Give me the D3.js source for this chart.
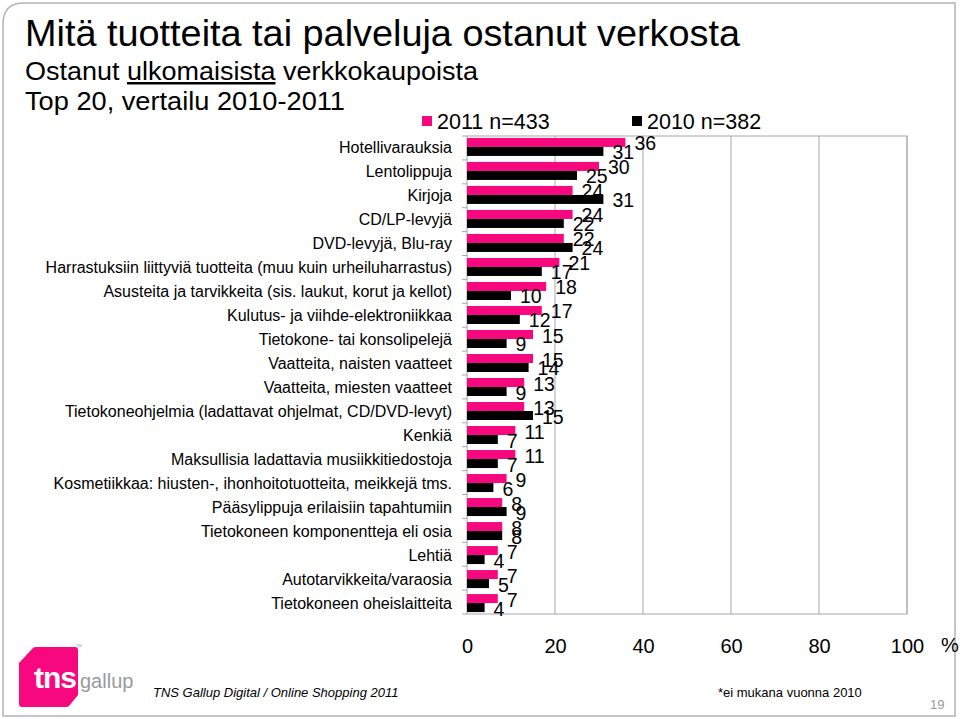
<!DOCTYPE html>
<html>
<head>
<meta charset="utf-8">
<script src="https://cdn.jsdelivr.net/npm/d3@7"></script>
<style>
  body { margin: 0; background: #fff; }
  svg { display: block; font-family: Arial, "Liberation Sans", sans-serif; }
</style>
</head>
<body>
<script>
// categories, top to bottom
const categories = [
  "Hotellivarauksia",
  "Lentolippuja",
  "Kirjoja",
  "CD/LP-levyjä",
  "DVD-levyjä, Blu-ray",
  "Harrastuksiin liittyviä tuotteita (muu kuin urheiluharrastus)",
  "Asusteita ja tarvikkeita (sis. laukut, korut ja kellot)",
  "Kulutus- ja viihde-elektroniikkaa",
  "Tietokone- tai konsolipelejä",
  "Vaatteita, naisten vaatteet",
  "Vaatteita, miesten vaatteet",
  "Tietokoneohjelmia (ladattavat ohjelmat, CD/DVD-levyt)",
  "Kenkiä",
  "Maksullisia ladattavia musiikkitiedostoja",
  "Kosmetiikkaa: hiusten-, ihonhoitotuotteita, meikkejä tms.",
  "Pääsylippuja erilaisiin tapahtumiin",
  "Tietokoneen komponentteja eli osia",
  "Lehtiä",
  "Autotarvikkeita/varaosia",
  "Tietokoneen oheislaitteita"
];
const values2011 = [36, 30, 24, 24, 22, 21, 18, 17, 15, 15, 13, 13, 11, 11, 9, 8, 8, 7, 7, 7];
const values2010 = [31, 25, 31, 22, 24, 17, 10, 12, 9, 14, 9, 15, 7, 7, 6, 9, 8, 4, 5, 4];
const seriesNames = ["2011 n=433", "2010 n=382"];
const xTicks = [0, 20, 40, 60, 80, 100];

//width and height
const w = 960;
const h = 719;
const pink = "#f7087f";
const gridColor = "#a8a8a8";

const margin = ({top: 136, right: 53, bottom: 105, left: 467});

let svg = d3.select("body")
    .append("svg")
    .attr("width", w)
    .attr("height", h);

// slide frame
svg.append("path")
    .attr("d", "M3,716 V24 Q3,3 24,3 H955 V716 Z")
    .attr("fill", "none")
    .attr("stroke", "#b4b4b4")
    .attr("stroke-width", 1.5);

// titles (the slide font is a bit condensed, so stretch to the measured widths)
svg.append("text")
    .attr("x", 25).attr("y", 46)
    .attr("font-size", 37)
    .attr("textLength", 715).attr("lengthAdjust", "spacingAndGlyphs")
    .text("Mitä tuotteita tai palveluja ostanut verkosta");

let sub = svg.append("text")
    .attr("x", 25).attr("y", 80)
    .attr("font-size", 25)
    .attr("textLength", 453).attr("lengthAdjust", "spacingAndGlyphs");
sub.append("tspan").text("Ostanut ");
sub.append("tspan").attr("text-decoration", "underline").text("ulkomaisista");
sub.append("tspan").text(" verkkokaupoista");

svg.append("text")
    .attr("x", 25).attr("y", 110)
    .attr("font-size", 25)
    .attr("textLength", 320).attr("lengthAdjust", "spacingAndGlyphs")
    .text("Top 20, vertailu 2010-2011");

// scales
let x = d3.scaleLinear()
    .domain([0, 100])
    .range([margin.left, w - margin.right]);

let y = d3.scaleBand()
    .domain(categories)
    .range([margin.top, h - margin.bottom])
    .paddingInner(0.25)
    .paddingOuter(0.08);

let ySub = d3.scaleBand()
    .domain(seriesNames)
    .range([0, y.bandwidth()]);

const colors = d3.scaleOrdinal().domain(seriesNames).range([pink, "#000"]);

// gridlines
svg.append("g")
    .selectAll("line")
    .data(xTicks.slice(1))
    .join("line")
    .attr("x1", d => x(d)).attr("x2", d => x(d))
    .attr("y1", margin.top).attr("y2", h - margin.bottom)
    .attr("stroke", gridColor);

// plot frame
svg.append("rect")
    .attr("x", x(0)).attr("y", margin.top)
    .attr("width", x(100) - x(0))
    .attr("height", h - margin.bottom - margin.top)
    .attr("fill", "none")
    .attr("stroke", gridColor);

// tick marks on category boundaries
const bounds = d3.range(categories.length + 1).map(i => margin.top + i * (h - margin.bottom - margin.top) / categories.length);
svg.append("g")
    .selectAll("line")
    .data(bounds)
    .join("line")
    .attr("x1", x(0) - 5).attr("x2", x(0))
    .attr("y1", d => d).attr("y2", d => d)
    .attr("stroke", gridColor);

// bars
const rows = categories.map((c, i) => ({cat: c, vals: [values2011[i], values2010[i]]}));

let groups = svg.append("g")
    .selectAll("g")
    .data(rows)
    .join("g")
    .attr("transform", d => `translate(0,${y(d.cat)})`);

groups.selectAll("rect")
    .data(d => d.vals.map((v, j) => ({s: seriesNames[j], v: v})))
    .join("rect")
    .attr("x", x(0))
    .attr("y", d => ySub(d.s))
    .attr("width", d => x(d.v) - x(0))
    .attr("height", ySub.bandwidth())
    .attr("fill", d => colors(d.s));

groups.selectAll("text")
    .data(d => d.vals.map((v, j) => ({s: seriesNames[j], v: v})))
    .join("text")
    .attr("x", d => x(d.v) + 9)
    .attr("y", d => ySub(d.s) + ySub.bandwidth() / 2 + 8)
    .attr("font-size", 19.5)
    .text(d => d.v);

// category labels
svg.append("g")
    .selectAll("text")
    .data(categories)
    .join("text")
    .attr("x", 452)
    .attr("y", d => y(d) + y.bandwidth() / 2 + 6)
    .attr("text-anchor", "end")
    .attr("font-size", 16)
    .text(d => d);

// x axis labels
let xAxis = g => g
    .attr("transform", `translate(0,${h - margin.bottom + 25})`)
    .call(d3.axisBottom(x).tickValues(xTicks).tickSize(0).tickPadding(0))
    .call(g => g.select(".domain").remove())
    .call(g => g.selectAll("text")
        .attr("font-size", 20)
        .attr("font-family", "Arial, 'Liberation Sans', sans-serif")
        .attr("fill", "#000"));
svg.append("g").call(xAxis);

svg.append("text")
    .attr("x", 941).attr("y", 652)
    .attr("font-size", 20)
    .text("%");

// legend
const legendX = [422, 632];
let legend = svg.append("g")
    .selectAll("g")
    .data(seriesNames)
    .join("g")
    .attr("transform", (d, i) => `translate(${legendX[i]},116)`);
legend.append("rect")
    .attr("width", 10).attr("height", 10)
    .attr("fill", d => colors(d));
legend.append("text")
    .attr("x", 15).attr("y", 13)
    .attr("font-size", 21.5)
    .text(d => d);

// footer
svg.append("text")
    .attr("x", 153).attr("y", 697)
    .attr("font-size", 13)
    .attr("font-style", "italic")
    .text("TNS Gallup Digital / Online Shopping 2011");

svg.append("text")
    .attr("x", 718).attr("y", 697)
    .attr("font-size", 13)
    .text("*ei mukana vuonna 2010");

svg.append("text")
    .attr("x", 930).attr("y", 709)
    .attr("font-size", 13)
    .attr("fill", "#999")
    .text("19");

// logo
let logo = svg.append("g");
logo.append("path")
    .attr("d", "M36,647 H75 Q78,647 78,650 V695 L69,706 Q68,707 66,707 H22 Q19,707 19,704 V663 L33,648 Q34,647 36,647 Z")
    .attr("fill", pink);
logo.append("text")
    .attr("x", 34).attr("y", 688)
    .attr("font-size", 30)
    .attr("font-weight", "bold")
    .attr("fill", "#fff")
    .attr("letter-spacing", -1)
    .text("tns");
logo.append("text")
    .attr("x", 80).attr("y", 688)
    .attr("font-size", 20)
    .attr("fill", "#9a9a9a")
    .text("gallup");
logo.append("text")
    .attr("x", 76).attr("y", 647)
    .attr("font-size", 4)
    .attr("fill", "#999")
    .text("TM");
</script>
</body>
</html>
